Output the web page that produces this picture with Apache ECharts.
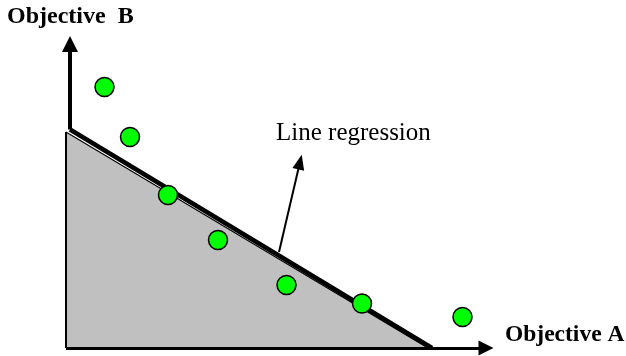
<!DOCTYPE html>
<html>
<head>
<meta charset="utf-8">
<script src="https://cdn.jsdelivr.net/npm/echarts@6/dist/echarts.min.js"></script>
<style>
  html, body { margin: 0; padding: 0; background: #fff; }
  #chart { width: 626px; height: 356px; }
</style>
</head>
<body>
<div id="chart"></div>
<script>
// Candidate solutions in objective space
const objectiveA = [38.5, 64, 102, 152, 220.5, 296, 396.5];
const objectiveB = [261, 211, 153, 108, 63, 44.5, 31];

// Region under the front (corner points on the two axes)
const frontA = [0, 362];
const frontB = [216, 0];

// Fitted regression line end points
const regressionA = [4, 366];
const regressionB = [218.5, 0];

// Axis arrows: A runs along B = 0, B runs along A = 4
const axisAEnd = 420;
const axisBStart = 218.5;
const axisBEnd = 304;

// Callout arrow pointing from the regression line to its label
const calloutA = [213, 234];
const calloutB = [96, 186];

const labelA = 'Objective A';
const labelB = 'Objective  B';
const calloutText = 'Line regression';

const toPairs = (xs, ys) => xs.map((x, i) => [x, ys[i]]);

const chart = echarts.init(document.getElementById('chart'), null, { renderer: 'canvas' });

const black = '#000000';

chart.setOption({
  animation: false,
  backgroundColor: '#ffffff',
  grid: { left: 66, right: 0, top: 8, bottom: 8, containLabel: false },
  xAxis: { type: 'value', min: 0, max: 560, show: false },
  yAxis: { type: 'value', min: 0, max: 340, show: false },
  series: [
    {
      // shaded region below the front
      type: 'line',
      data: toPairs(frontA, frontB),
      symbol: 'none',
      silent: true,
      lineStyle: { color: black, width: 1.2 },
      areaStyle: { color: '#c0c0c0', opacity: 1 },
      z: 1
    },
    {
      // left edge of the shaded region
      type: 'line',
      data: [[frontA[0], 0], [frontA[0], frontB[0]]],
      symbol: 'none',
      silent: true,
      lineStyle: { color: black, width: 2 },
      z: 2
    },
    {
      type: 'line',
      data: toPairs(regressionA, regressionB),
      symbol: 'none',
      silent: true,
      lineStyle: { color: black, width: 4.5, cap: 'butt' },
      z: 3
    },
    {
      // arrows: both axes and the callout
      type: 'line',
      data: [],
      silent: true,
      z: 4,
      markLine: {
        silent: true,
        animation: false,
        label: { show: false },
        symbol: ['none', 'triangle'],
        data: [
          [
            { coord: [frontA[0], 0], symbol: 'none', lineStyle: { color: black, width: 3, type: 'solid' } },
            { coord: [axisAEnd, 0], symbol: 'triangle', symbolSize: [15, 15] }
          ],
          [
            { coord: [regressionA[0], axisBStart], symbol: 'none', lineStyle: { color: black, width: 4, type: 'solid' } },
            { coord: [regressionA[0], axisBEnd], symbol: 'triangle', symbolSize: [16, 16] }
          ],
          [
            { coord: [calloutA[0], calloutB[0]], symbol: 'none', lineStyle: { color: black, width: 2, type: 'solid' } },
            { coord: [calloutA[1], calloutB[1]], symbol: 'triangle', symbolSize: [12, 15] }
          ]
        ]
      }
    },
    {
      type: 'scatter',
      data: toPairs(objectiveA, objectiveB),
      symbol: 'circle',
      symbolSize: 19,
      silent: true,
      itemStyle: { color: '#00ff00', borderColor: black, borderWidth: 1.5, opacity: 1 },
      z: 5
    }
  ],
  graphic: [
    {
      type: 'text', x: 7, y: 17,
      style: { text: labelB, font: 'bold 24px "Liberation Serif"', fill: black, align: 'left', verticalAlign: 'middle' }
    },
    {
      type: 'text', x: 505, y: 335,
      style: { text: labelA, font: 'bold 23.5px "Liberation Serif"', fill: black, align: 'left', verticalAlign: 'middle' }
    },
    {
      type: 'text', x: 276, y: 133,
      style: { text: calloutText, font: '25px "Liberation Serif"', fill: black, align: 'left', verticalAlign: 'middle' }
    }
  ]
});
</script>
</body>
</html>
